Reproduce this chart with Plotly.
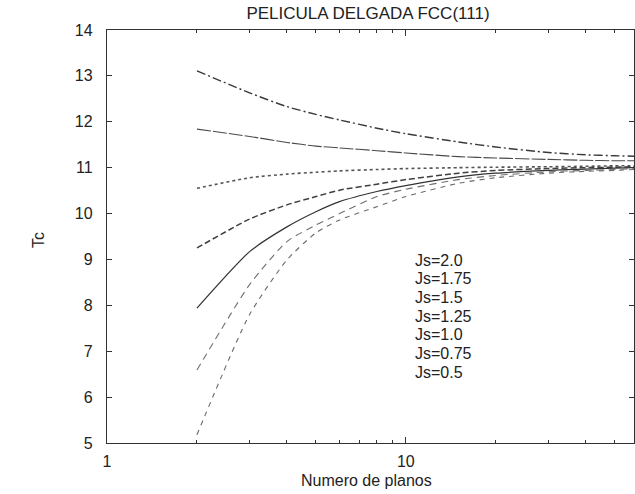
import plotly.graph_objects as go

# Number of atomic planes in the film
planos = [2, 3, 4, 5, 6, 8, 10, 15, 20, 30, 40, 50, 58]

# Critical temperature vs. film thickness for each surface coupling Js
js_labels = ["Js=2.0", "Js=1.75", "Js=1.5", "Js=1.25", "Js=1.0", "Js=0.75", "Js=0.5"]
tc_js_2_00 = [13.11, 12.63, 12.33, 12.16, 12.04, 11.86, 11.74, 11.56, 11.45, 11.33, 11.28, 11.26, 11.25]
tc_js_1_75 = [11.84, 11.68, 11.55, 11.47, 11.43, 11.37, 11.32, 11.24, 11.21, 11.18, 11.16, 11.15, 11.15]
tc_js_1_50 = [10.55, 10.78, 10.86, 10.90, 10.93, 10.96, 10.98, 11.00, 11.01, 11.02, 11.03, 11.04, 11.04]
tc_js_1_25 = [9.25, 9.88, 10.19, 10.37, 10.51, 10.64, 10.74, 10.88, 10.94, 10.98, 11.00, 11.01, 11.02]
tc_js_1_00 = [7.94, 9.17, 9.71, 10.04, 10.26, 10.48, 10.61, 10.80, 10.88, 10.94, 10.97, 10.99, 11.00]
tc_js_0_75 = [6.59, 8.45, 9.39, 9.75, 10.00, 10.37, 10.53, 10.74, 10.83, 10.91, 10.94, 10.96, 10.98]
tc_js_0_50 = [5.18, 7.80, 8.99, 9.58, 9.86, 10.15, 10.37, 10.66, 10.78, 10.88, 10.92, 10.94, 10.96]

series = [tc_js_2_00, tc_js_1_75, tc_js_1_50, tc_js_1_25, tc_js_1_00, tc_js_0_75, tc_js_0_50]
styles = [
    ("#3a3a3a", "9px,3px,2px,3px", 1.4),
    ("#4a4a4a", "14px,2px", 1.1),
    ("#555555", "3px,3px", 1.6),
    ("#3f3f3f", "6px,3px", 1.5),
    ("#333333", "solid", 1.2),
    ("#6e6e6e", "7px,5px", 1.1),
    ("#6a6a6a", "5px,5px", 1.1),
]

x_major = [1, 10]
x_minor = [2, 3, 4, 5, 6, 7, 8, 9, 20, 30, 40, 50]
y_ticks = [5, 6, 7, 8, 9, 10, 11, 12, 13, 14]

fig = go.Figure()
for name, vals, (col, dash, w) in zip(js_labels, series, styles):
    fig.add_trace(go.Scatter(
        x=planos, y=vals, mode="lines", name=name,
        line=dict(color=col, dash=dash, width=w, shape="spline", smoothing=0.6),
        showlegend=False,
    ))

font = dict(family="Liberation Sans, Arial, sans-serif", size=16, color="#222222")

fig.update_layout(
    width=635, height=494,
    margin=dict(l=107, r=1, t=30, b=51),
    paper_bgcolor="white", plot_bgcolor="white",
    font=font,
    showlegend=False,
    title=dict(text="PELICULA DELGADA FCC(111)", x=368 / 635, xanchor="center",
               y=1 - 13 / 494, yanchor="middle", font=dict(size=17, color="#222222")),
)

fig.update_xaxes(
    type="log", range=[0, 1.7634],
    tickvals=x_major, ticktext=["1", "10"],
    ticks="inside", ticklen=6, tickcolor="#333333",
    minor=dict(tickvals=x_minor, ticks="inside", ticklen=3, tickcolor="#333333", showgrid=False),
    showgrid=False, zeroline=False,
    showline=True, linecolor="#333333", linewidth=1.3, mirror="ticks",
    tickfont=dict(size=16), ticklabelstandoff=4,
)
fig.update_yaxes(
    range=[5, 14], tickvals=y_ticks,
    ticks="inside", ticklen=5, tickcolor="#333333",
    showgrid=False, zeroline=False,
    showline=True, linecolor="#333333", linewidth=1.3, mirror="ticks",
    tickfont=dict(size=16), ticklabelstandoff=10,
)

# Axis titles
fig.add_annotation(text="Numero de planos", xref="paper", yref="paper",
                   x=(366 - 107) / 527, y=-37 / 413, xanchor="center", yanchor="middle",
                   showarrow=False, font=dict(size=16))
fig.add_annotation(text="Tc", xref="paper", yref="paper",
                   x=-(107 - 38) / 527, y=(443 - 240) / 413, xanchor="center", yanchor="middle",
                   textangle=-90, showarrow=False, font=dict(size=16))

# Key text for the curves
for i, name in enumerate(js_labels):
    py = 260 + i * 18.7
    fig.add_annotation(text=name, xref="paper", yref="paper",
                       x=(413 - 107) / 527, y=(443 - py) / 413,
                       xanchor="left", yanchor="middle", showarrow=False,
                       font=dict(size=16))

fig.write_html("out.html")
